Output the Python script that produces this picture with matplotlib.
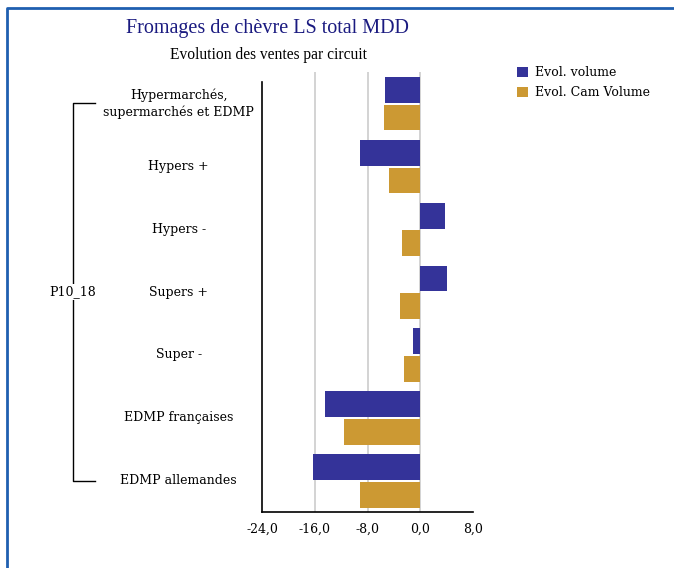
import numpy as np
import matplotlib.pyplot as plt
from matplotlib.ticker import FuncFormatter
from matplotlib.lines import Line2D

# Données : évolution des ventes par circuit (P10_18)
circuits = ["Hypermarchés,\nsupermarchés et EDMP", "Hypers +", "Hypers -",
            "Supers +", "Super -", "EDMP françaises", "EDMP allemandes"]
evol_volume = [-5.4, -9.2, 3.8, 4.0, -1.1, -14.5, -16.2]
evol_cam_volume = [-5.5, -4.8, -2.8, -3.0, -2.4, -11.6, -9.1]
groupe = "P10_18"
x_ticks = [-24, -16, -8, 0, 8]

col_vol = "#343399"
col_cam = "#cc9933"
serif = "DejaVu Serif"

fig = plt.figure(figsize=(6.74, 5.68), dpi=100)
ax = fig.add_axes([262 / 674, 1 - 512 / 568, 211 / 674, 440 / 568])

y = np.arange(len(circuits))
h = 0.41
ax.barh(y - 0.215, evol_volume, height=h, color=col_vol, zorder=3, label="Evol. volume")
ax.barh(y + 0.225, evol_cam_volume, height=h, color=col_cam, zorder=3, label="Evol. Cam Volume")

ax.set_xlim(-24, 8)
ax.set_ylim(len(circuits) - 0.5, -0.5)
ax.set_xticks(x_ticks)
ax.xaxis.set_major_formatter(FuncFormatter(lambda v, p: f"{v:.1f}".replace(".", ",")))
ax.tick_params(axis="x", length=0, pad=8, labelsize=9)
for lab in ax.get_xticklabels():
    lab.set_fontfamily(serif)
ax.set_yticks([])
# grille verticale sauf aux bords
for v in x_ticks[1:-1]:
    ax.axvline(v, color="#cccccc", linewidth=1.2, zorder=0)
for s in ["top", "right"]:
    ax.spines[s].set_visible(False)
ax.spines["left"].set_bounds(len(circuits) - 0.5, -0.34)
ax.spines["left"].set_linewidth(1.2)
ax.spines["bottom"].set_linewidth(1.2)

# libellés des circuits
trans = ax.get_yaxis_transform()
for yi, name in zip(y, circuits):
    ax.text(-0.395, yi, name, transform=trans, ha="center", va="center",
            fontsize=9, family=serif, linespacing=1.3)

# accolade du groupe
bx0, bx1 = -0.896, -0.79
ax.add_line(Line2D([bx1, bx0, bx0, bx1], [y[0], y[0], y[-1], y[-1]],
                   transform=trans, color="black", linewidth=1, clip_on=False))
ax.text(bx0, (y[0] + y[-1]) / 2, groupe, transform=trans, ha="center", va="center",
        fontsize=9, family=serif,
        bbox=dict(facecolor="white", edgecolor="none", pad=1))

# titres
fig.text(267 / 674, 1 - 28 / 568, "Fromages de chèvre LS total MDD", ha="center",
         va="center", fontsize=14.5, family="Liberation Serif", color="#1a1a80")
fig.text(268 / 674, 1 - 55 / 568, "Evolution des ventes par circuit", ha="center",
         va="center", fontsize=11.2, family="Liberation Serif", color="black")

leg = fig.legend(loc="upper left", bbox_to_anchor=(517 / 674, 1 - 66 / 568),
                 frameon=False, prop={"family": serif, "size": 9},
                 handlelength=0.85, handleheight=0.85, handletextpad=0.6,
                 labelspacing=0.6, borderaxespad=0, borderpad=0)

# cadre bleu
fig.add_artist(Line2D([7 / 674, 7 / 674, 1], [0, 1 - 8 / 568, 1 - 8 / 568],
                      transform=fig.transFigure, color="#1f5fb0", linewidth=2))

fig.savefig("out.png", dpi=100)
